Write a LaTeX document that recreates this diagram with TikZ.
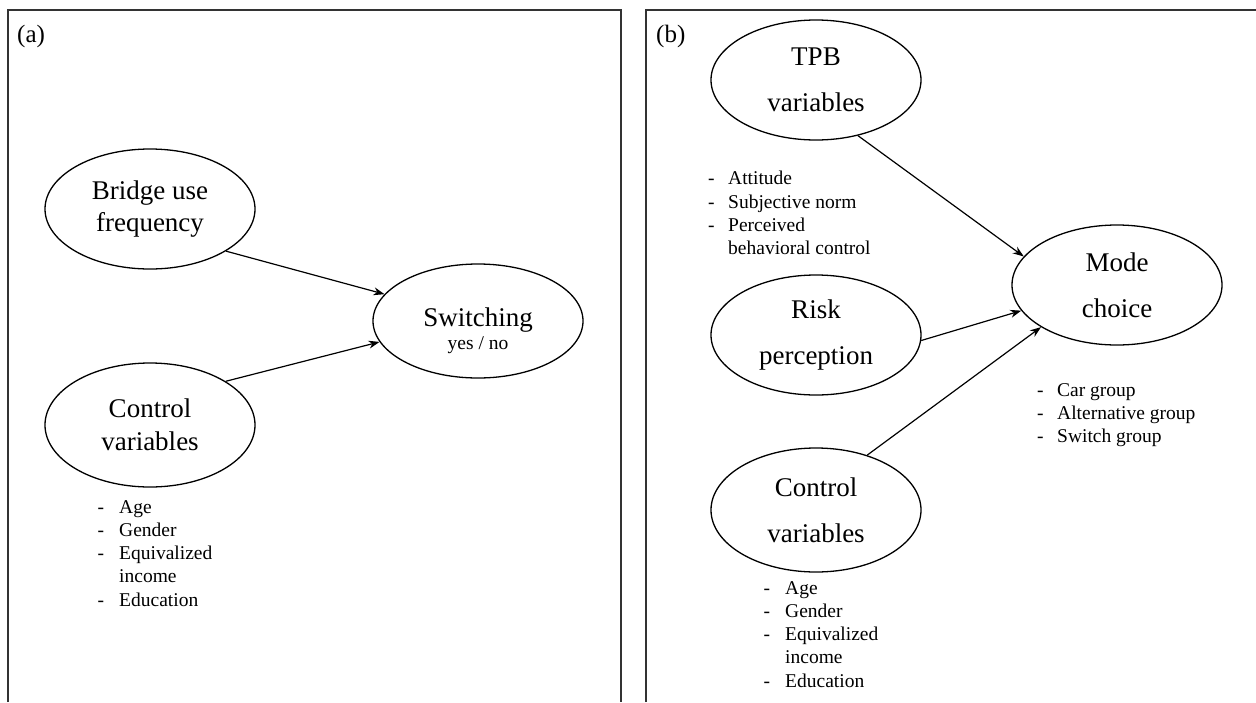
\documentclass[tikz,border=0pt]{standalone}
\usepackage{fontspec}
\setmainfont{Liberation Serif}
\usetikzlibrary{shapes.geometric,arrows.meta}
\begin{document}
\begin{tikzpicture}[x=1pt,y=-1pt,
  frame/.style={line width=2pt,draw=black!80},
  latent/.style={ellipse,draw,line width=1.3pt,minimum width=210pt,minimum height=120pt,inner sep=0pt,align=center,font=\fontsize{27}{46}\selectfont},
  tight/.style={font=\fontsize{27}{32.5}\selectfont},
  items/.style={anchor=north west,align=left,inner sep=0pt,font=\fontsize{19.5}{23.3}\selectfont},
  path/.style={line width=1.2pt,-{Stealth[length=11pt,width=8pt]}},
  panel/.style={anchor=base west,inner sep=0pt,font=\fontsize{25}{28}\selectfont}]
\useasboundingbox (0,0) rectangle (1256,702);
% frames
\draw[frame] (8,702) -- (8,10) -- (621,10) -- (621,702);
\draw[frame] (646,702) -- (646,10) -- (1260,10);
\node[panel] (pa) at (17,42) {(a)};
\node[panel] (pb) at (656,42) {(b)};
% panel a
\node[latent,tight] (bridge) at (150,209) {Bridge use\\frequency};
\node[latent,tight,minimum height=124pt] (ctrla) at (150,425) {Control\\variables};
\node[latent,minimum height=114pt] (switch) at (478,321) {};
\node[align=center,inner sep=0pt,font=\fontsize{27}{23}\selectfont] (switchtext) at (478,331) {Switching\\{\fontsize{19.5}{23}\selectfont yes / no}};
\node[items] (lista) at (97.5,500) {\makebox[21.5pt][l]{-}Age\\\makebox[21.5pt][l]{-}Gender\\\makebox[21.5pt][l]{-}Equivalized\\\makebox[21.5pt][l]{}income\\\makebox[21.5pt][l]{-}Education};
\draw[path] (bridge.-29.5) -- (switch.164);
\draw[path] (ctrla.30.6) -- (switch.-168.5);
% panel b
\node[latent] (tpb) at (816,80) {TPB\\variables};
\node[latent] (risk) at (816,335) {Risk\\perception};
\node[latent,minimum height=124pt] (ctrlb) at (816,510) {Control\\variables};
\node[latent] (mode) at (1117,285) {Mode\\choice};
\node[items] (listtpb) at (708,171) {\makebox[20pt][l]{-}Attitude\\\makebox[20pt][l]{-}Subjective norm\\\makebox[20pt][l]{-}Perceived\\\makebox[20pt][l]{}behavioral control};
\node[items] (listb) at (763.5,581) {\makebox[21.5pt][l]{-}Age\\\makebox[21.5pt][l]{-}Gender\\\makebox[21.5pt][l]{-}Equivalized\\\makebox[21.5pt][l]{}income\\\makebox[21.5pt][l]{-}Education};
\node[items] (listmode) at (1037,383) {\makebox[20pt][l]{-}Car group\\\makebox[20pt][l]{-}Alternative group\\\makebox[20pt][l]{-}Switch group};
\draw[path] (tpb.-53) -- (mode.163);
\draw[path] (risk.-3) -- (mode.-165.5);
\draw[path] (ctrlb.47) -- (mode.-151);
\end{tikzpicture}
\end{document}
